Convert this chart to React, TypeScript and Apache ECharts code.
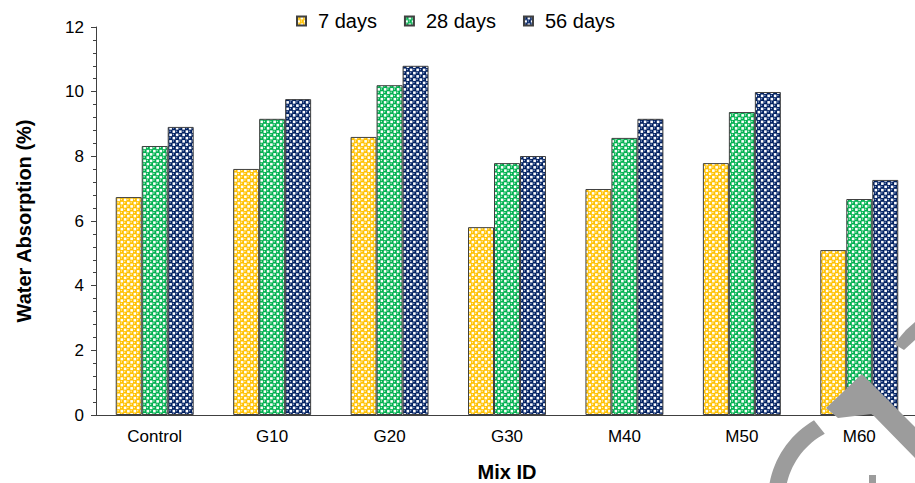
import React, { useEffect, useRef } from "react";
import * as echarts from "echarts";

const categories = ["Control", "G10", "G20", "G30", "M40", "M50", "M60"];
const days7 = [6.74, 7.61, 8.6, 5.81, 6.99, 7.79, 5.1];
const days28 = [8.32, 9.16, 10.2, 7.79, 8.57, 9.37, 6.68];
const days56 = [8.91, 9.77, 10.8, 8.01, 9.16, 9.99, 7.27];
const seriesNames = ["7 days", "28 days", "56 days"];
const seriesColors = ["#FFC000", "#00B050", "#002060"];
const highlightColors = ["#FFF0B0", "#B8F0CC", "#8FA3D0"];

function makeTile(color: string, hl: string) {
  const c = document.createElement("canvas");
  const s = 13;
  c.width = s;
  c.height = s;
  const ctx = c.getContext("2d")!;
  ctx.fillStyle = color;
  ctx.fillRect(0, 0, s, s);
  const cell = 3.25;
  for (let i = 0; i < 4; i++) {
    for (let j = 0; j < 4; j++) {
      const cx = cell * i + cell / 2;
      const cy = cell * j + cell / 2;
      if ((i + j) % 2 === 1) {
        ctx.fillStyle = "#ffffff";
        ctx.fillRect(cx - 1.3, cy - 1.3, 2.6, 2.6);
      } else {
        ctx.fillStyle = hl;
        ctx.beginPath();
        ctx.arc(cx - 0.5, cy - 0.5, 0.75, 0, Math.PI * 2);
        ctx.fill();
      }
    }
  }
  return c;
}

function arcBand(cx: number, cy: number, r0: number, r1: number, a0: number, a1: number, a1inner: number) {
  const pts: number[][] = [];
  const n = 24;
  for (let k = 0; k <= n; k++) {
    const a = ((a0 + ((a1 - a0) * k) / n) * Math.PI) / 180;
    pts.push([cx + r1 * Math.cos(a), cy + r1 * Math.sin(a)]);
  }
  for (let k = n; k >= 0; k--) {
    const a = ((a0 + ((a1inner - a0) * k) / n) * Math.PI) / 180;
    pts.push([cx + r0 * Math.cos(a), cy + r0 * Math.sin(a)]);
  }
  return pts;
}

export default function App() {
  const ref = useRef<HTMLDivElement>(null);
  useEffect(() => {
    if (!ref.current) return;
    const chart = echarts.init(ref.current, undefined, { renderer: "svg" });
    const data = [days7, days28, days56];
    const series = data.map((d, i) => ({
      name: seriesNames[i],
      type: "bar",
      data: d,
      barGap: "0%",
      barCategoryGap: "33.6%",
      itemStyle: {
        color: {
          image: makeTile(seriesColors[i], highlightColors[i]),
          repeat: "repeat",
        },
        borderColor: "#404040",
        borderWidth: 1,
      },
      z: 2,
    }));
    const wm = "#9c9c9c";
    chart.setOption({
      animation: false,
      backgroundColor: "#ffffff",
      textStyle: { fontFamily: "Arial, 'Liberation Sans', sans-serif" },
      legend: {
        data: seriesNames,
        top: 6,
        left: 291,
        itemWidth: 9,
        itemHeight: 9,
        itemGap: 27,
        icon: "rect",
        textStyle: { fontSize: 20, color: "#000", padding: [0, 0, 0, 7] },
      },
      grid: { left: 96, top: 27, width: 822, height: 388, outerBoundsMode: "none", containLabel: false },
      xAxis: {
        type: "category",
        data: categories,
        name: "Mix ID",
        nameLocation: "middle",
        nameGap: 47,
        nameTextStyle: { fontSize: 20, fontWeight: "bold", color: "#000" },
        axisLine: { lineStyle: { color: "#404040", width: 1 } },
        axisTick: { alignWithLabel: true, length: 5, lineStyle: { color: "#404040" } },
        axisLabel: { fontSize: 17, color: "#000", margin: 13 },
      },
      yAxis: {
        type: "value",
        min: 0,
        max: 12,
        interval: 2,
        name: "Water Absorption (%)",
        nameLocation: "middle",
        nameGap: 62,
        nameTextStyle: { fontSize: 20, fontWeight: "bold", color: "#000" },
        axisLine: { show: true, lineStyle: { color: "#404040", width: 1 } },
        axisTick: { show: true, length: 5, lineStyle: { color: "#404040" } },
        minorTick: { show: true, splitNumber: 5, length: 3, lineStyle: { color: "#404040" } },
        splitLine: { show: false },
        axisLabel: { fontSize: 17, color: "#000", margin: 12 },
      },
      series,
      graphic: [
        {
          type: "polygon",
          z: 100,
          shape: {
            points: [
              [826, 408],
              [862, 374],
              [915, 427],
              [915, 458],
              [872, 414],
              [838, 418],
            ],
          },
          style: { fill: wm },
        },
        {
          type: "polygon",
          z: 100,
          shape: { points: arcBand(860, 500, 75, 92, 170, 240, 242) },
          style: { fill: wm },
        },
        {
          type: "polygon",
          z: 100,
          shape: {
            points: [
              [894, 344],
              [906, 330],
              [915, 322],
              [915, 340],
              [904, 350],
            ],
          },
          style: { fill: wm },
        },
        {
          type: "rect",
          z: 100,
          shape: { x: 869, y: 475, width: 7, height: 8 },
          style: { fill: wm },
        },
      ],
    });
    return () => chart.dispose();
  }, []);
  return (
    <div
      ref={ref}
      style={{ position: "absolute", left: 0, top: 0, width: 915, height: 483 }}
    />
  );
}
